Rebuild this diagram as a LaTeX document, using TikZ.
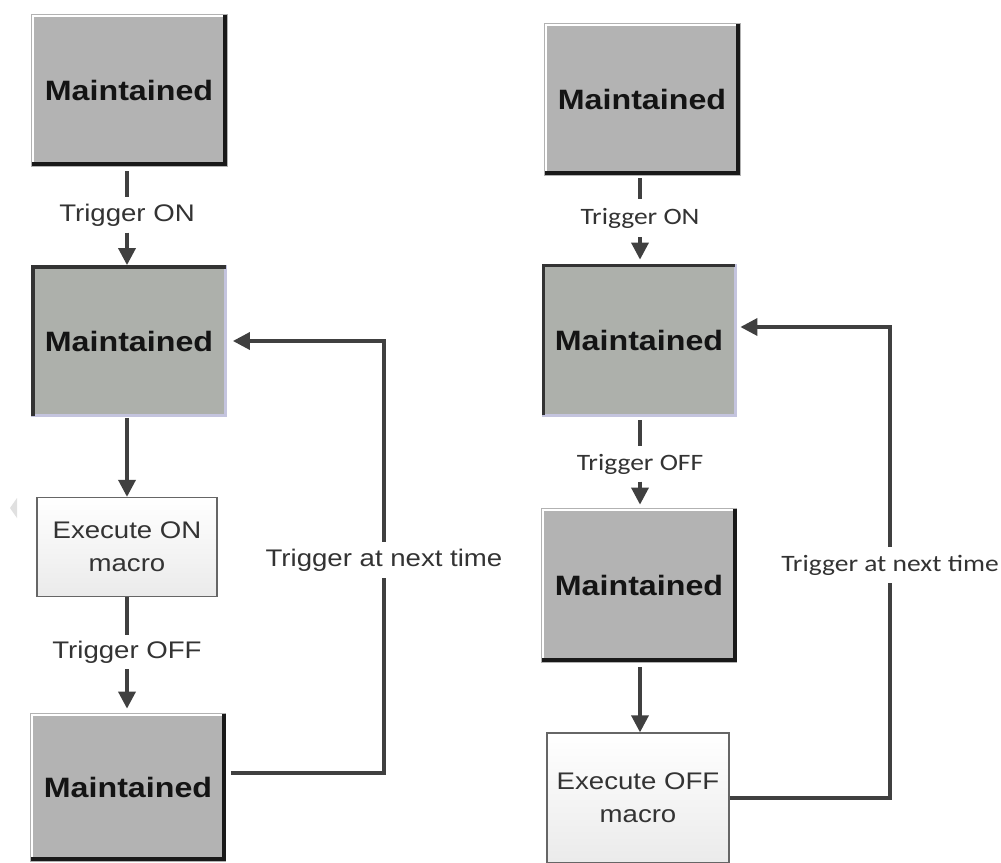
\documentclass[tikz,border=0pt]{standalone}
\usepackage{fontspec}
\usetikzlibrary{arrows.meta}
\newfontfamily\arialf[FakeStretch=1.15]{Liberation Sans}
\newfontfamily\calif[FakeStretch=1.17]{Carlito}
\definecolor{boxgray}{HTML}{B3B3B3}
\definecolor{greengray}{HTML}{ADB0AB}
\definecolor{lineclr}{HTML}{404040}
\definecolor{lavender}{HTML}{C4C4DE}
\definecolor{txtclr}{HTML}{333333}
\newcommand\raisedbevel[1]{%
  \draw[white,line width=2pt] ([xshift=2pt,yshift=2pt]#1.south west) -- ([xshift=2pt,yshift=-2pt]#1.north west) -- ([xshift=-2pt,yshift=-2pt]#1.north east);
  \draw[black!90,line width=4pt] ([xshift=-2pt,yshift=-1pt]#1.north east) -- ([xshift=-2pt,yshift=2pt]#1.south east) -- ([xshift=1pt,yshift=2pt]#1.south west);
}
\newcommand\sunkenbevel[1]{%
  \draw[lavender,line width=2.5pt] ([xshift=-1.25pt,yshift=-1pt]#1.north east) -- ([xshift=-1.25pt,yshift=1.25pt]#1.south east) -- ([xshift=1pt,yshift=1.25pt]#1.south west);
  \draw[black!80,line width=3.5pt] ([xshift=1.75pt,yshift=1pt]#1.south west) -- ([xshift=1.75pt,yshift=-1.75pt]#1.north west) -- ([xshift=-1pt,yshift=-1.75pt]#1.north east);
}
\tikzset{
  raised/.style={fill=boxgray, draw=gray!60, line width=0.8pt, inner sep=0pt,
    font=\arialf\bfseries\fontsize{28}{30}\selectfont, text=black!92},
  sunken/.style={fill=greengray, draw=lavender, line width=0.8pt, inner sep=0pt,
    font=\arialf\bfseries\fontsize{28}{30}\selectfont, text=black!92},
  macrobox/.style={draw=black!60, line width=1.3pt, top color=white, bottom color=black!8,
    inner sep=0pt, align=center, font=\arialf\fontsize{24}{33}\selectfont, text=txtclr},
  lblA/.style={inner sep=0pt, font=\arialf\fontsize{24}{28}\selectfont, text=txtclr},
  lblC/.style={inner sep=0pt, font=\calif\fontsize{23.5}{28}\selectfont, text=txtclr},
  conn/.style={draw=lineclr, line width=3.5pt},
  arr/.style={conn, -{Triangle[width=17pt,length=17pt]}},
}
\begin{document}
\begin{tikzpicture}[x=1pt,y=-1pt]
\path[use as bounding box] (0,0) rectangle (1001,862);
\clip (0,0) rectangle (1001,862);
\fill[white] (0,0) rectangle (1001,862);
% faint artifact triangle
\fill[black!12] (17,498) -- (10,508) -- (17,518) -- cycle;

% left column
\node[raised, minimum width=196, minimum height=152] (a1) at (129,90) {Maintained};
\node[sunken, minimum width=195, minimum height=151] (a2) at (129,341) {Maintained};
\node[macrobox, minimum width=180, minimum height=99] (a3) at (127,547) {Execute ON\\macro};
\node[raised, minimum width=195, minimum height=148] (a4) at (128,787) {Maintained};
\raisedbevel{a1}
\sunkenbevel{a2}
\raisedbevel{a4}

\node[lblA, minimum height=35] (l1) at (127,215) {Trigger ON};
\node[lblA, minimum height=34] (l2) at (127,652) {Trigger OFF};
\node[lblA, minimum height=36] (lL) at (384,560) {Trigger at next time};

\draw[conn] (l1.north |- a1.south) ++(0,5) -- (l1.north);
\draw[arr] (l1.south) -- (l1.south |- a2.north);
\draw[arr] ([yshift=-1pt]a2.south -| l1.south) -- (a3.north -| l1.south);
\draw[conn] (a3.south -| l2.north) -- (l2.north);
\draw[arr] (l2.south) -- ([yshift=4pt]l2.south |- a4.north);
\draw[conn] ([xshift=5pt,yshift=14pt]a4.east) -| (lL.south);
\draw[arr] (lL.north) |- ([xshift=6pt]a2.east);

% right column
\node[raised, minimum width=196, minimum height=152] (b1) at (642,99) {Maintained};
\node[sunken, minimum width=194, minimum height=152] (b2) at (639,340) {Maintained};
\node[raised, minimum width=195, minimum height=154] (b3) at (639,585) {Maintained};
\node[macrobox, minimum width=182, minimum height=130] (b4) at (638,798) {Execute OFF\\macro};
\raisedbevel{b1}
\sunkenbevel{b2}
\raisedbevel{b3}

\node[lblC, minimum height=38] (r1) at (640,218) {Trigger ON};
\node[lblC, minimum height=35] (r2) at (640,464) {Trigger OFF};
\node[lblC, minimum height=36] (rL) at (890,565) {Trigger at next time};

\draw[conn] (r1.north |- b1.south) ++(0,3) -- (r1.north);
\draw[arr] (r1.south) -- ([yshift=4pt]r1.south |- b2.north);
\draw[conn] ([yshift=-4pt]b2.south -| r2.north) -- (r2.north);
\draw[arr] (r2.south) -- ([yshift=3pt]r2.south |- b3.north);
\draw[arr] ([yshift=-5pt]b3.south -| r2.south) -- (b4.north -| r2.south);
\draw[conn] (b4.east) -| (rL.south);
\draw[arr] (rL.north) |- ([xshift=4pt,yshift=13pt]b2.east);
\end{tikzpicture}
\end{document}
